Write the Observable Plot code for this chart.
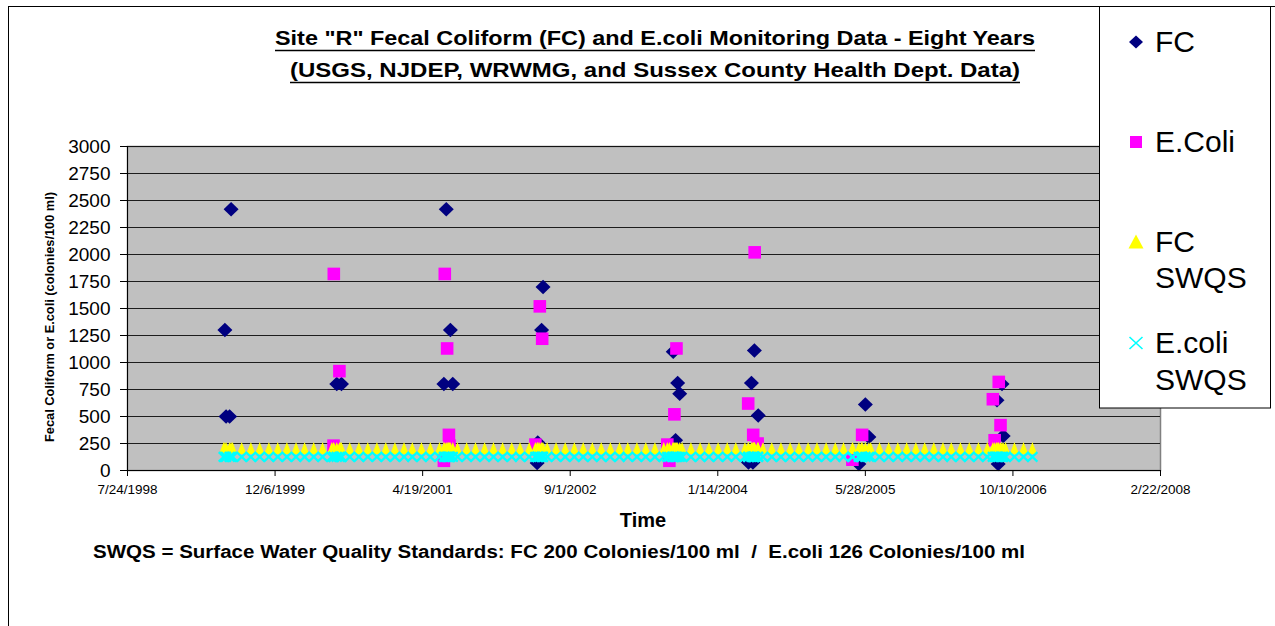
<!DOCTYPE html>
<html><head><meta charset="utf-8">
<script src="https://cdn.jsdelivr.net/npm/d3@7"></script>
<script src="https://cdn.jsdelivr.net/npm/@observablehq/plot@0.6"></script>
<style>
body{margin:0;background:#fff;}
#wrap{position:relative;width:1275px;height:626px;overflow:hidden;background:#fff;}
#wrap svg{position:absolute;left:0;top:0;}
</style></head><body><div id="wrap"></div>
<script>
// ---------- data ----------
const fcDates = [
 "1999-06-19","1999-07-10","1999-06-23","1999-07-05",
 "2000-07-02","2000-07-18",
 "2001-07-08","2001-07-22","2001-06-30","2001-07-30",
 "2002-06-01","2002-05-27","2002-05-14","2002-05-12",
 "2003-08-16","2003-08-31","2003-09-07","2003-08-24",
 "2004-05-17","2004-05-07","2004-05-30","2004-04-27","2004-05-12",
 "2005-05-28","2005-06-09","2005-05-06",
 "2006-09-03","2006-08-17","2006-09-07","2006-08-21"
];
const fcValues = [
 1300,2420,500,500,
 800,800,
 2420,1300,800,800,
 1700,1300,260,70,
 1100,810,710,280,
 1110,810,510,75,75,
 610,310,60,
 800,650,320,60
];
const ecDates = [
 "2000-06-22","2000-07-11","2000-06-21",
 "2001-07-03","2001-07-11","2001-07-17","2001-07-19","2001-06-30",
 "2002-05-21","2002-05-29","2002-05-06",
 "2003-08-27","2003-08-20","2003-07-27","2003-08-03",
 "2004-05-18","2004-04-26","2004-05-13","2004-05-28",
 "2005-05-17","2005-04-14",
 "2006-08-23","2006-08-03","2006-08-29","2006-08-09"
];
const ecValues = [
 1820,920,230,
 1820,1130,330,230,90,
 1520,1220,240,
 1130,520,240,90,
 2020,620,330,250,
 330,100,
 820,660,420,280
];
const swqsDates = [
 "1999-06-15","1999-07-15","1999-08-15","1999-09-15","1999-10-15","1999-11-15","1999-12-15",
 "2000-01-15","2000-02-15","2000-03-15","2000-04-15","2000-05-15","2000-06-15","2000-07-15","2000-08-15","2000-09-15","2000-10-15","2000-11-15","2000-12-15",
 "2001-01-15","2001-02-15","2001-03-15","2001-04-15","2001-05-15","2001-06-15","2001-07-15","2001-08-15","2001-09-15","2001-10-15","2001-11-15","2001-12-15",
 "2002-01-15","2002-02-15","2002-03-15","2002-04-15","2002-05-15","2002-06-15","2002-07-15","2002-08-15","2002-09-15","2002-10-15","2002-11-15","2002-12-15",
 "2003-01-15","2003-02-15","2003-03-15","2003-04-15","2003-05-15","2003-06-15","2003-07-15","2003-08-15","2003-09-15","2003-10-15","2003-11-15","2003-12-15",
 "2004-01-15","2004-02-15","2004-03-15","2004-04-15","2004-05-15","2004-06-15","2004-07-15","2004-08-15","2004-09-15","2004-10-15","2004-11-15","2004-12-15",
 "2005-01-15","2005-02-15","2005-03-15","2005-04-15","2005-05-15","2005-06-15","2005-07-15","2005-08-15","2005-09-15","2005-10-15","2005-11-15","2005-12-15",
 "2006-01-15","2006-02-15","2006-03-15","2006-04-15","2006-05-15","2006-06-15","2006-07-15","2006-08-15","2006-09-15","2006-10-15","2006-11-15","2006-12-15"
];
const fcStandard = 200;
const ecStandard = 126;
const xDomain = ["1998-07-24","2008-02-22"];
const xTickDates = ["1998-07-24","1999-12-06","2001-04-19","2002-09-01","2004-01-14","2005-05-28","2006-10-10","2008-02-22"];
const xTickLabels = ["7/24/1998","12/6/1999","4/19/2001","9/1/2002","1/14/2004","5/28/2005","10/10/2006","2/22/2008"];
const yTicks = [0,250,500,750,1000,1250,1500,1750,2000,2250,2500,2750,3000];
const seriesNames = ["FC","E.Coli","FC SWQS","E.coli SWQS"];
const titleLines = ["Site \"R\" Fecal Coliform (FC) and E.coli Monitoring Data - Eight Years","(USGS, NJDEP, WRWMG, and Sussex County Health Dept. Data)"];
const yTitle = "Fecal Coliform or E.coli (colonies/100 ml)";
const xTitle = "Time";
const footnote = "SWQS = Surface Water Quality Standards: FC 200 Colonies/100 ml  /  E.coli 126 Colonies/100 ml";

// ---------- build ----------
const parse = d3.utcParse("%Y-%m-%d");
const fcData = fcDates.map((d,i)=>({date: parse(d), value: fcValues[i]}));
const ecData = ecDates.map((d,i)=>({date: parse(d), value: ecValues[i]}));
const stdDates = Array.from(new Set([...swqsDates, ...fcDates, ...ecDates])).map(parse);
const fcStdData = stdDates.map(d=>({date:d, value: fcStandard}));
const ecStdData = stdDates.map(d=>({date:d, value: ecStandard}));
const xTicks = xTickDates.map(parse);
const labelMap = new Map(xTicks.map((d,i)=>[+d, xTickLabels[i]]));

const COLORS = {fc:"#000080", ec:"#FF00FF", fcs:"#FFFF00", ecs:"#00FFFF"};
const diamond = (w,h)=>({draw(c){c.moveTo(0,-h/2);c.lineTo(w/2,0);c.lineTo(0,h/2);c.lineTo(-w/2,0);c.closePath();}});
const square = (s)=>({draw(c){c.rect(-s/2,-s/2,s,s);}});
const tri = (w,top,bot)=>({draw(c){c.moveTo(0,-top);c.lineTo(w/2,bot);c.lineTo(-w/2,bot);c.closePath();}});
const cross = (w,h)=>({draw(c){c.moveTo(-w/2,-h/2);c.lineTo(w/2,h/2);c.moveTo(w/2,-h/2);c.lineTo(-w/2,h/2);}});

const FONT = "'Liberation Sans', Arial, Helvetica, sans-serif";
const chart = Plot.plot({
  width: 1275, height: 626,
  marginLeft: 127, marginRight: 115, marginTop: 146, marginBottom: 156,
  style: {fontFamily: FONT, color: "#000", background: "transparent", overflow: "visible"},
  x: {type: "utc", domain: xDomain.map(parse), axis: null, label: null},
  y: {domain: [0, 3000], axis: null, label: null},
  marks: [
    Plot.frame({fill: "#C0C0C0", stroke: "#808080", strokeWidth: 1.5}),
    Plot.gridY(yTicks.slice(1), {stroke: "#000", strokeOpacity: 0.85, strokeWidth: 1}),
    Plot.dot(fcData, {x: "date", y: "value", symbol: diamond(15,14.5), r: 5, fill: COLORS.fc, stroke: "none"}),
    Plot.dot(ecData, {x: "date", y: "value", symbol: square(12.6), r: 5, fill: COLORS.ec, stroke: "none"}),
    Plot.dot(fcStdData, {x: "date", y: "value", symbol: tri(9.5,6.8,5), r: 5, fill: COLORS.fcs, stroke: "none"}),
    Plot.dot(ecStdData, {x: "date", y: "value", symbol: cross(10,9.5), r: 5, fill: "none", stroke: COLORS.ecs, strokeWidth: 2.2}),
    Plot.ruleX([xTicks[0]], {stroke: "#000", strokeWidth: 1}),
    Plot.ruleY([0], {stroke: "#000", strokeWidth: 1}),
    Plot.axisY({ticks: yTicks, tickSize: 7, tickPadding: 10, fontSize: 19, tickFormat: d => String(d), label: null}),
    Plot.axisX({ticks: xTicks, tickSize: 6, tickPadding: 8, fontSize: 13.5, tickFormat: d => labelMap.get(+d), label: null})
  ]
});
const wrap = document.getElementById("wrap");
wrap.appendChild(chart);

// ---------- overlay: border, titles, legend ----------
const ov = d3.create("svg").attr("width",1275).attr("height",626).style("pointer-events","none");
ov.append("rect").attr("x",8.5).attr("y",6.5).attr("width",1300).attr("height",700)
  .attr("fill","none").attr("stroke","#000").attr("stroke-width",1);

const TFONT = "'Liberation Sans Narrow','Arial Narrow','Liberation Sans',sans-serif";
const titleSpecs = [{y:45, w:760, uy:50.5},{y:77, w:730, uy:82.5}];
titleLines.forEach((t,i)=>{
  const s = titleSpecs[i];
  ov.append("text").attr("x",655).attr("y",s.y).attr("text-anchor","middle")
    .attr("font-family",TFONT).attr("font-weight","bold").attr("font-size",21)
    .attr("textLength",s.w).attr("lengthAdjust","spacingAndGlyphs").text(t);
  ov.append("line").attr("x1",655-s.w/2).attr("x2",655+s.w/2).attr("y1",s.uy).attr("y2",s.uy)
    .attr("stroke","#000").attr("stroke-width",1.6);
});
ov.append("text").attr("transform","translate(53.5,317) rotate(-90)").attr("text-anchor","middle")
  .attr("font-family",FONT).attr("font-weight","bold").attr("font-size",12)
  .attr("textLength",250).attr("lengthAdjust","spacingAndGlyphs").text(yTitle);
ov.append("text").attr("x",643).attr("y",527).attr("text-anchor","middle")
  .attr("font-family",FONT).attr("font-weight","bold").attr("font-size",20).text(xTitle);
ov.append("text").attr("x",93).attr("y",558)
  .attr("font-family",FONT).attr("font-weight","bold").attr("font-size",18)
  .style("white-space","pre")
  .attr("textLength",932).attr("lengthAdjust","spacingAndGlyphs").text(footnote);

// legend
const lg = ov.append("g");
lg.append("rect").attr("x",1099.5).attr("y",6.5).attr("width",171).attr("height",401.5)
  .attr("fill","#fff").attr("stroke","#000").attr("stroke-width",1);
const pathOf = (sym)=>{const p=d3.path(); sym.draw(p); return p.toString();};
const legendItems = [
  {name: seriesNames[0], sym: diamond(14,13), fill: COLORS.fc, stroke: "none", y: 42, lines: [52]},
  {name: seriesNames[1], sym: square(12), fill: COLORS.ec, stroke: "none", y: 142, lines: [152]},
  {name: seriesNames[2], sym: tri(15,7.5,6.5), fill: COLORS.fcs, stroke: "none", y: 242, lines: [252, 288]},
  {name: seriesNames[3], sym: cross(13,12), fill: "none", stroke: COLORS.ecs, y: 343, lines: [353, 390]}
];
legendItems.forEach(it=>{
  lg.append("path").attr("transform",`translate(1136,${it.y})`).attr("d",pathOf(it.sym))
    .attr("fill",it.fill).attr("stroke",it.stroke).attr("stroke-width",1.6);
  const words = it.name.split(" ");
  words.forEach((w,j)=>{
    lg.append("text").attr("x",1155).attr("y",it.lines[j]).attr("font-family",FONT)
      .attr("font-size",30).attr("fill","#000").text(w);
  });
});
wrap.appendChild(ov.node());
</script></body></html>
